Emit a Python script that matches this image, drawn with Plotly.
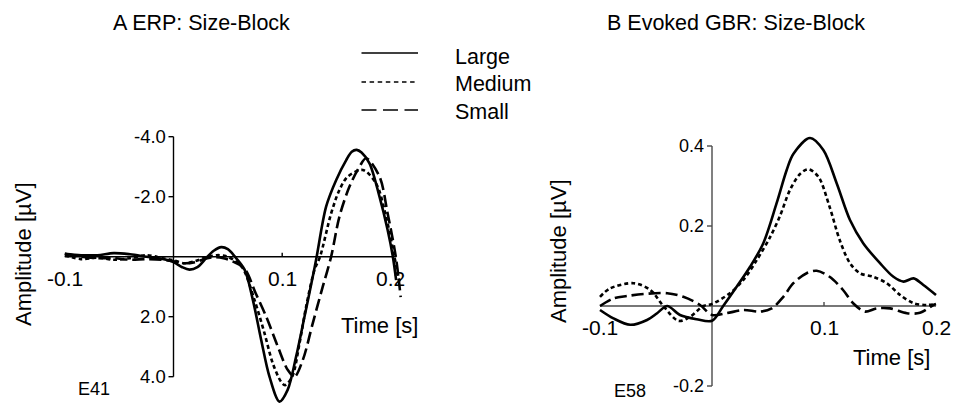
import plotly.graph_objects as go

W, H = 954, 403
FONT = "Liberation Sans, Arial, Helvetica, sans-serif"

series_names = ["Large", "Medium", "Small"]

# ---- A: ERP at electrode E41 (µV, negative plotted upward) ----
erp_large_t = [-0.100, -0.085, -0.070, -0.055, -0.040, -0.025, -0.010, 0.000, 0.008, 0.0147,
               0.022, 0.030, 0.037, 0.044, 0.050, 0.0565, 0.0655, 0.073, 0.0807, 0.0883,
               0.0975, 0.105, 0.1128, 0.1205, 0.1281, 0.1317, 0.1404, 0.1497, 0.1589, 0.164,
               0.1685, 0.173, 0.1803, 0.1895, 0.197, 0.2018, 0.2048]
erp_large_v = [-0.10, -0.05, -0.05, -0.12, -0.08, 0.00, 0.08, 0.18, 0.35, 0.43,
               0.35, 0.05, -0.20, -0.32, -0.25, 0.00, 0.44, 1.44, 2.78, 4.00,
               4.83, 4.44, 3.33, 2.00, 0.67, 0.00, -1.67, -2.56, -3.22, -3.50,
               -3.56, -3.47, -3.11, -2.00, -0.89, 0.00, 0.78]

erp_medium_t = [-0.100, -0.085, -0.070, -0.055, -0.040, -0.025, -0.010, 0.000, 0.010, 0.020,
                0.030, 0.040, 0.048, 0.056, 0.0638, 0.0745, 0.0837, 0.0914, 0.099, 0.1026,
                0.1092, 0.1159, 0.122, 0.1297, 0.1348, 0.145, 0.1526, 0.1603, 0.1741, 0.1864,
                0.1956, 0.2032, 0.2079]
erp_medium_v = [-0.05, 0.08, 0.03, 0.10, 0.05, -0.05, 0.05, 0.12, 0.22, 0.15,
                0.02, -0.05, -0.02, 0.12, 0.39, 1.44, 2.55, 3.56, 4.17, 4.28,
                4.00, 2.89, 1.67, 0.44, 0.00, -1.44, -2.22, -2.67, -2.89, -2.44,
                -1.33, 0.00, 0.83]

erp_small_t = [-0.100, -0.085, -0.070, -0.055, -0.040, -0.025, -0.010, 0.000, 0.010, 0.020,
               0.030, 0.038, 0.046, 0.054, 0.0653, 0.0756, 0.0853, 0.096, 0.1052, 0.1113,
               0.119, 0.1281, 0.1373, 0.145, 0.1526, 0.1618, 0.1711, 0.1772, 0.1895, 0.197,
               0.2045, 0.209]
erp_small_v = [-0.10, 0.00, 0.05, 0.05, 0.10, 0.08, 0.10, 0.15, 0.22, 0.18,
               0.06, 0.02, 0.05, 0.15, 0.40, 1.22, 2.00, 3.00, 3.78, 4.00,
               3.44, 2.22, 1.00, 0.00, -1.33, -2.33, -3.00, -3.28, -2.67, -1.44,
               0.00, 1.35]

# ---- B: evoked gamma-band response at electrode E58 (µV) ----
gbr_large_t = [-0.100, -0.088, -0.073, -0.058, -0.049, -0.040, -0.0286, -0.0137, 0.000, 0.010,
               0.022, 0.034, 0.0458, 0.0577, 0.0667, 0.0726, 0.0875, 0.0994, 0.1113, 0.1232,
               0.135, 0.150, 0.162, 0.171, 0.180, 0.1887, 0.200]
gbr_large_v = [-0.010, -0.031, -0.047, -0.035, -0.018, 0.000, -0.0225, -0.033, -0.037, 0.000,
               0.048, 0.098, 0.157, 0.257, 0.340, 0.380, 0.420, 0.390, 0.307, 0.215,
               0.157, 0.107, 0.073, 0.061, 0.069, 0.0525, 0.0275]

gbr_medium_t = [-0.100, -0.091, -0.070, -0.055, -0.0435, -0.030, -0.0196, -0.0078, 0.000, 0.016,
                0.028, 0.040, 0.052, 0.0607, 0.0696, 0.0786, 0.086, 0.095, 0.105, 0.114,
                0.1232, 0.132, 0.144, 0.156, 0.168, 0.180, 0.1917, 0.200]
gbr_medium_v = [0.023, 0.044, 0.057, 0.040, 0.000, -0.037, -0.027, 0.000, 0.005, 0.032,
                0.065, 0.115, 0.173, 0.225, 0.290, 0.330, 0.342, 0.323, 0.248, 0.165,
                0.107, 0.082, 0.073, 0.057, 0.0275, 0.007, 0.0025, 0.005]

gbr_small_t = [-0.100, -0.088, -0.076, -0.061, -0.040, -0.0256, -0.0107, 0.000, 0.013, 0.028,
               0.0429, 0.0533, 0.0637, 0.0726, 0.0845, 0.0935, 0.105, 0.117, 0.126, 0.1366,
               0.147, 0.159, 0.174, 0.1857, 0.1976, 0.200]
gbr_small_v = [0.000, 0.019, 0.025, 0.030, 0.032, 0.023, 0.0025, -0.0225, -0.018, -0.010,
               -0.014, -0.006, 0.023, 0.057, 0.082, 0.088, 0.073, 0.040, 0.007, -0.014,
               -0.006, -0.006, -0.018, -0.017, 0.0025, 0.005]

# ---- tick labels ----
erp_xticks = [-0.1, 0.1, 0.2]
erp_xtick_text = ["-0.1", "0.1", "0.2"]
erp_yticks = [-4.0, -2.0, 2.0, 4.0]
erp_ytick_text = ["-4.0", "-2.0", "2.0", "4.0"]
gbr_xticks = [-0.1, 0.1, 0.2]
gbr_xtick_text = ["-0.1", "0.1", "0.2"]
gbr_yticks = [-0.2, 0.2, 0.4]
gbr_ytick_text = ["-0.2", "0.2", "0.4"]

panel_titles = ["A ERP: Size-Block", "B Evoked GBR: Size-Block"]
electrodes = ["E41", "E58"]
x_title = "Time [s]"
y_title = "Amplitude [µV]"


# ---- geometry helpers (pixel layout -> paper / axis ranges) ----
def paper_x(px):
    return px / W


def paper_y(py):
    return 1 - py / H


def lin_range(p_lo, p_hi, origin_px, px_per_unit):
    return [(p_lo - origin_px) / px_per_unit, (p_hi - origin_px) / px_per_unit]


# panel A: t=0 at x=173.5 px, 1087 px per second; v=0 at y=256.7 px, 30 px per µV (downward)
A_XDOM = (20, 425)
A_YDOM = (115, 403)
a_xrange = lin_range(A_XDOM[0], A_XDOM[1], 173.5, 1087)
a_yrange = [(A_YDOM[1] - 256.7) / 30, (A_YDOM[0] - 256.7) / 30]

# panel B: t=0 at x=712 px, 1120 px per second; v=0 at y=306 px, 400 px per µV (upward)
B_XDOM = (570, 954)
B_YDOM = (120, 403)
b_xrange = lin_range(B_XDOM[0], B_XDOM[1], 712, 1120)
b_yrange = [(306 - B_YDOM[1]) / 400, (306 - B_YDOM[0]) / 400]

line_styles = {
    "Large": dict(dash="solid"),
    "Medium": dict(dash="4px,3px"),
    "Small": dict(dash="12px,5px"),
}
legend_dash = {"Large": "solid", "Medium": "4.5px,3.6px", "Small": "15px,6.5px"}

fig = go.Figure()

erp_data = {"Large": (erp_large_t, erp_large_v),
            "Medium": (erp_medium_t, erp_medium_v),
            "Small": (erp_small_t, erp_small_v)}
gbr_data = {"Large": (gbr_large_t, gbr_large_v),
            "Medium": (gbr_medium_t, gbr_medium_v),
            "Small": (gbr_small_t, gbr_small_v)}

for name in series_names:
    t, v = erp_data[name]
    fig.add_trace(go.Scatter(x=t, y=v, mode="lines", name=name, showlegend=False,
                             line=dict(color="black", width=2.6, shape="spline", smoothing=0.9,
                                       **line_styles[name]),
                             xaxis="x", yaxis="y", hoverinfo="skip"))
for name in series_names:
    t, v = gbr_data[name]
    fig.add_trace(go.Scatter(x=t, y=v, mode="lines", name=name, showlegend=False,
                             line=dict(color="black", width=2.6, shape="spline", smoothing=0.9,
                                       **line_styles[name]),
                             xaxis="x2", yaxis="y2", hoverinfo="skip"))

shapes = []
annotations = []


def draw_axes(xref, yref, xspan, yspan, xticks, xtick_text, yticks, ytick_text,
              color, lw, xfont, yfont):
    # crossing axes through the origin
    shapes.append(dict(type="line", xref=xref, yref=yref, x0=xspan[0], x1=xspan[1], y0=0, y1=0,
                       line=dict(color=color, width=lw), layer="below"))
    shapes.append(dict(type="line", xref=xref, yref=yref, x0=0, x1=0, y0=yspan[0], y1=yspan[1],
                       line=dict(color=color, width=lw), layer="below"))
    for tv, tt in zip(yticks, ytick_text):
        shapes.append(dict(type="line", xref=xref, yref=yref, xsizemode="pixel", xanchor=0,
                           x0=-5, x1=0, y0=tv, y1=tv, line=dict(color=color, width=lw)))
        annotations.append(dict(xref=xref, yref=yref, x=0, y=tv, text=tt, showarrow=False,
                                xanchor="right", yanchor="middle", xshift=-6,
                                font=dict(family=FONT, size=yfont, color="black")))
    for tv, tt in zip(xticks, xtick_text):
        # small upward tick marks for interior ticks only
        if 0 < tv < 0.15:
            shapes.append(dict(type="line", xref=xref, yref=yref, ysizemode="pixel", yanchor=0,
                               x0=tv, x1=tv, y0=0, y1=4, line=dict(color=color, width=lw)))
        annotations.append(dict(xref=xref, yref=yref, x=tv, y=0, text=tt, showarrow=False,
                                xanchor="center", yanchor="top", yshift=-8,
                                font=dict(family=FONT, size=xfont, color="black")))


draw_axes("x", "y", (-0.1, 0.205), (-4.0, 4.0), erp_xticks, erp_xtick_text,
          erp_yticks, erp_ytick_text, "black", 1.4, 21, 18.5)
draw_axes("x2", "y2", (-0.1, 0.2), (-0.2, 0.4), gbr_xticks, gbr_xtick_text,
          gbr_yticks, gbr_ytick_text, "#4a4a4a", 1.4, 21, 18)


def text_px(px, py, text, size, xanchor="center", yanchor="middle", angle=0):
    annotations.append(dict(xref="paper", yref="paper", x=paper_x(px), y=paper_y(py),
                            text=text, showarrow=False, xanchor=xanchor, yanchor=yanchor,
                            textangle=angle, font=dict(family=FONT, size=size, color="black")))


# panel titles
text_px(201, 23, panel_titles[0], 21.5)
text_px(736, 23, panel_titles[1], 21.5)
# axis titles
text_px(24, 254, y_title, 22, angle=-90)
text_px(558, 251, y_title, 22, angle=-90)
text_px(379, 325, x_title, 22)
text_px(891, 357, x_title, 22)
# electrode labels
text_px(94, 389, electrodes[0], 18)
text_px(630, 403, electrodes[1], 18, yanchor="bottom")

# legend
leg_rows = [53, 82, 110]
leg_text_rows = [56.5, 83.5, 111.5]
for name, ly, ty in zip(series_names, leg_rows, leg_text_rows):
    shapes.append(dict(type="line", xref="paper", yref="paper",
                       x0=paper_x(361.5), x1=paper_x(418), y0=paper_y(ly), y1=paper_y(ly),
                       line=dict(color="black", width=1.5, dash=legend_dash[name])))
    text_px(453, ty, name, 21.5, xanchor="left")

fig.update_layout(
    width=W, height=H,
    margin=dict(l=0, r=0, t=0, b=0),
    paper_bgcolor="white", plot_bgcolor="rgba(0,0,0,0)",
    showlegend=False,
    xaxis=dict(domain=[paper_x(A_XDOM[0]), paper_x(A_XDOM[1])], range=a_xrange,
               visible=False, anchor="y"),
    yaxis=dict(domain=[paper_y(A_YDOM[1]), paper_y(A_YDOM[0])], range=a_yrange,
               visible=False, anchor="x"),
    xaxis2=dict(domain=[paper_x(B_XDOM[0]), paper_x(B_XDOM[1])], range=b_xrange,
                visible=False, anchor="y2"),
    yaxis2=dict(domain=[paper_y(B_YDOM[1]), paper_y(B_YDOM[0])], range=b_yrange,
                visible=False, anchor="x2"),
    shapes=shapes,
    annotations=annotations,
)

fig.write_html("out.html")
